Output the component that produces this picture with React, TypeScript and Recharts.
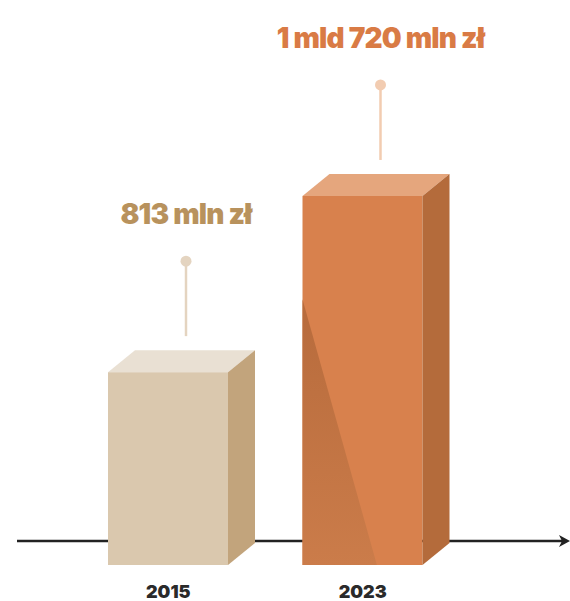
import { BarChart, Bar, XAxis, YAxis, LabelList, ReferenceLine } from 'recharts';

const years = ['2015', '2023'];
const values = [813, 1720];
const valueLabels = ['813 mln zł', '1 mld 720 mln zł'];
const axisLevel = -56;

const palette = [
    { front: '#dac8ae', top: '#e9e0d3', side: '#c2a47c', text: '#b8925d', pin: '#e4d4c0', shade: false },
    { front: '#d8814d', top: '#e5a67d', side: '#b46b3b', text: '#d97b45', pin: '#f2ccb1', shade: true },
];

const data = years.map((year, i) => ({ year, value: values[i], label: valueLabels[i] }));

const DX = 27;
const DY = 22;
const FONT = 'Inter, "Open Sans", sans-serif';

function Box3D(props: any) {
    const { x, y, width, index, background } = props;
    const c = palette[index] || palette[0];
    const bottom = background ? background.y + background.height : y + props.height;
    const gid = `shade-${index}`;
    return (
        <g>
            {c.shade && (
                <defs>
                    <linearGradient id={gid} x1="0" y1="0" x2="0" y2="1">
                        <stop offset="0%" stopColor="#b76b3c" />
                        <stop offset="100%" stopColor="#cb7c4a" />
                    </linearGradient>
                </defs>
            )}
            <rect x={x} y={y} width={width} height={bottom - y} fill={c.front} />
            {c.shade && (
                <polygon
                    points={`${x},${y + (bottom - y) * 0.28} ${x + width * 0.62},${bottom} ${x},${bottom}`}
                    fill={`url(#${gid})`}
                />
            )}
            <polygon
                points={`${x},${y} ${x + DX},${y - DY} ${x + width + DX},${y - DY} ${x + width},${y}`}
                fill={c.top}
            />
            <polygon
                points={`${x + width},${y} ${x + width + DX},${y - DY} ${x + width + DX},${bottom - DY} ${x + width},${bottom}`}
                fill={c.side}
            />
        </g>
    );
}

function Pin(props: any) {
    const { x, y, width, index, value } = props;
    const c = palette[index] || palette[0];
    const cx = x + width / 2 + 18;
    return (
        <g>
            <line x1={cx} y1={y - 111} x2={cx} y2={y - 36} stroke={c.pin} strokeWidth={2.5} />
            <circle cx={cx} cy={y - 111} r={5.5} fill={c.pin} />
            <text
                x={cx}
                y={y - 148}
                textAnchor="middle"
                fill={c.text}
                fontFamily={FONT}
                fontWeight={900}
                fontSize={28}
                letterSpacing={-0.8}
            >
                {value}
            </text>
        </g>
    );
}

function AxisArrow(props: any) {
    const { y1 } = props;
    const y = y1 ?? props.y;
    return (
        <g>
            <line x1={17} y1={y} x2={564} y2={y} stroke="#222" strokeWidth={2.5} />
            <polygon points={`${570},${y} ${559},${y - 6} ${562},${y} ${559},${y + 6}`} fill="#222" />
        </g>
    );
}

function YearTick(props: any) {
    const { x, y, payload } = props;
    return (
        <text x={x} y={y + 25} textAnchor="middle" fill="#2a2a2a" fontFamily={FONT} fontWeight={900} fontSize={18}>
            {payload.value}
        </text>
    );
}

export default function App() {
    return (
        <div style={{ position: 'absolute', left: 0, top: 0, background: '#fff' }}>
            <BarChart width={570} height={601} data={data} margin={{ top: 161, right: 110, bottom: 6, left: 71 }}>
                <XAxis dataKey="year" height={30} axisLine={false} tickLine={false} tick={<YearTick />} interval={0} />
                <YAxis hide domain={[-180, 1900]} />
                <ReferenceLine y={axisLevel} shape={<AxisArrow />} ifOverflow="extendDomain" zIndex={-1} />
                <Bar dataKey="value" barSize={120} shape={<Box3D />} isAnimationActive={false}>
                    <LabelList dataKey="label" content={<Pin />} />
                </Bar>
            </BarChart>
        </div>
    );
}
